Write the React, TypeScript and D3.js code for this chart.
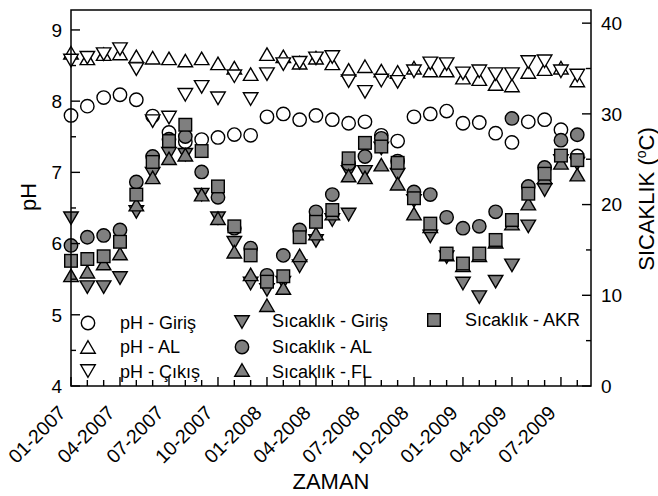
import React from "react";
import * as d3 from "d3";

// month index: 0 = 01-2007 ... 31 = 08-2009
const months = [0,1,2,3,4,5,6,7,8,9,10,11,12,13,14,15,16,17,18,19,20,21,22,23,24,25,26,27,28,29,30,31];
const xTickMonths = [0,3,6,9,12,15,18,21,24,27,30];
const xTickLabels = ["01-2007","04-2007","07-2007","10-2007","01-2008","04-2008","07-2008","10-2008","01-2009","04-2009","07-2009"];
const phTicks = [4,5,6,7,8,9];
const phMinor = [4.5,5.5,6.5,7.5,8.5];
const tTicks = [0,10,20,30,40];
const tMinor = [5,15,25,35];

const phGiris = [7.80,7.93,8.05,8.09,8.02,7.79,7.56,7.43,7.46,7.49,7.53,7.52,7.78,7.82,7.74,7.80,7.74,7.69,7.71,7.52,7.44,7.78,7.82,7.86,7.69,7.70,7.55,7.42,7.71,7.74,7.60,7.23];
const phAL = [8.68,8.60,8.66,8.67,8.63,8.61,8.60,8.57,8.60,8.53,8.47,8.38,8.66,8.63,8.54,8.61,8.53,8.44,8.49,8.43,8.41,8.47,8.43,8.43,8.33,8.31,8.24,8.22,8.41,8.45,8.47,8.29];
const phCikis = [8.57,8.61,8.66,8.73,8.45,7.72,7.77,8.09,8.20,8.04,8.35,8.03,8.38,8.52,8.54,8.60,8.62,8.28,8.13,8.29,8.27,8.42,8.53,8.52,8.39,8.42,8.38,8.38,8.55,8.56,8.42,8.36];

const tGiris = [18.5,10.9,10.9,11.9,19.2,23.4,25.6,25.5,21.1,18.5,15.8,11.3,10.6,11.4,13.2,16.0,18.3,23.6,23.6,26.2,23.3,20.4,16.5,14.2,11.3,9.8,11.5,13.3,17.6,21.6,24.8,24.5];
const tGirisExtraMonths = [17];
const tGirisExtra = [18.9];
const tAL = [15.5,16.4,16.6,17.2,22.5,25.3,27.2,27.5,23.6,20.8,17.4,15.2,12.2,14.4,17.2,19.2,21.1,24.5,25.3,27.3,24.8,21.4,21.1,18.6,17.4,17.6,19.2,29.5,22.0,24.1,27.1,27.7];
const tFL = [12.2,12.6,13.5,14.6,20.0,23.0,25.1,25.5,21.1,18.5,14.8,12.3,8.9,10.8,14.4,16.8,19.0,23.2,23.0,24.4,22.3,19.0,17.6,14.5,13.3,14.4,15.9,17.9,20.1,23.0,24.6,23.3];
const tAKR = [13.8,14.0,14.3,15.9,21.1,24.7,27.0,28.8,25.9,22.0,17.6,14.4,11.5,12.1,16.4,18.1,19.4,25.1,26.8,26.4,24.6,20.7,17.9,14.6,13.5,14.6,16.1,18.3,21.2,23.4,25.4,24.9];

const FONT = "'Liberation Sans', Arial, Helvetica, sans-serif";
const GRAY = "#7f7f7f";
const L = 71, R = 591, T = 10, B = 386;

type Shape = "circle" | "up" | "down" | "square";

function Marker({ shape, cx, cy, fill }: { shape: Shape; cx: number; cy: number; fill: string }) {
  const sw = 1.4;
  if (shape === "circle") return <circle cx={cx} cy={cy} r={6.7} fill={fill} stroke="#000" strokeWidth={sw} />;
  if (shape === "square") return <rect x={cx - 6.3} y={cy - 6.3} width={12.6} height={12.6} fill={fill} stroke="#000" strokeWidth={sw} />;
  const w = 14.5, h = 12.5;
  const pts = shape === "up"
    ? [[cx, cy - h / 2], [cx + w / 2, cy + h / 2], [cx - w / 2, cy + h / 2]]
    : [[cx, cy + h / 2], [cx + w / 2, cy - h / 2], [cx - w / 2, cy - h / 2]];
  return <polygon points={pts.map(p => p.join(",")).join(" ")} fill={fill} stroke="#000" strokeWidth={sw} strokeLinejoin="miter" />;
}

export default function App() {
  const x = d3.scaleLinear().domain([0, 31.84]).range([L, R]);
  const yPh = d3.scaleLinear().domain([4, 9.28]).range([B, T]);
  const yT = d3.scaleLinear().domain([0, 41.45]).range([B, T]);

  const phSeries: { data: number[]; shape: Shape }[] = [
    { data: phGiris, shape: "circle" },
    { data: phAL, shape: "up" },
    { data: phCikis, shape: "down" },
  ];
  const tSeries: { data: number[]; shape: Shape; m?: number[] }[] = [
    { data: tGiris, shape: "down" },
    { data: tGirisExtra, shape: "down", m: tGirisExtraMonths },
    { data: tAL, shape: "circle" },
    { data: tFL, shape: "up" },
    { data: tAKR, shape: "square" },
  ];

  const allMonths = d3.range(0, 32);

  return (
    <svg width={658} height={496} style={{ position: "absolute", left: 0, top: 0, background: "#fff" }} fontFamily={FONT}>
      <rect x={0} y={0} width={658} height={496} fill="#fff" />
      {phSeries.map((s, si) => (
        <g key={"ph" + si}>
          {s.data.map((v, i) => (
            <Marker key={i} shape={s.shape} cx={x(months[i])} cy={yPh(v)} fill="#fff" />
          ))}
        </g>
      ))}
      {tSeries.map((s, si) => (
        <g key={"t" + si}>
          {s.data.map((v, i) => (
            <Marker key={i} shape={s.shape} cx={x((s.m || months)[i])} cy={yT(v)} fill={GRAY} />
          ))}
        </g>
      ))}

      <rect x={L} y={T} width={R - L} height={B - T} fill="none" stroke="#000" strokeWidth={1.5} />

      {phTicks.map(t => (
        <g key={"pt" + t}>
          <line x1={L} x2={L + 9} y1={yPh(t)} y2={yPh(t)} stroke="#000" strokeWidth={1.4} />
          <text x={L - 9} y={yPh(t)} dy="0.36em" textAnchor="end" fontSize={19}>{t}</text>
        </g>
      ))}
      {phMinor.map(t => (
        <line key={"pm" + t} x1={L} x2={L + 5} y1={yPh(t)} y2={yPh(t)} stroke="#000" strokeWidth={1.4} />
      ))}
      {tTicks.map(t => (
        <g key={"tt" + t}>
          <line x1={R} x2={R - 9} y1={yT(t)} y2={yT(t)} stroke="#000" strokeWidth={1.4} />
          <text x={R + 10} y={yT(t)} dy="0.36em" textAnchor="start" fontSize={19}>{t}</text>
        </g>
      ))}
      {tMinor.map(t => (
        <line key={"tm" + t} x1={R} x2={R - 5} y1={yT(t)} y2={yT(t)} stroke="#000" strokeWidth={1.4} />
      ))}
      {allMonths.map(m => (
        <line key={"xm" + m} x1={x(m)} x2={x(m)} y1={B} y2={B - (m % 3 === 0 ? 9 : 6)} stroke="#000" strokeWidth={1.4} />
      ))}
      {xTickMonths.map((m, i) => (
        <text key={"xl" + m} transform={`translate(${x(m) - 4},${B + 28}) rotate(-45)`} textAnchor="end" fontSize={19.5}>{xTickLabels[i]}</text>
      ))}

      <text x={331} y={489} textAnchor="middle" fontSize={22}>ZAMAN</text>
      <text transform={`translate(36,197) rotate(-90)`} textAnchor="middle" fontSize={22}>pH</text>
      <text transform={`translate(654,199) rotate(-90)`} textAnchor="middle" fontSize={22}>
        SICAKLIK (<tspan fontSize={14} dy={-8}>o</tspan><tspan dy={8}>C)</tspan>
      </text>

      <Marker shape="circle" cx={88} cy={323} fill="#fff" />
      <text x={120} y={329} fontSize={18}>pH - Giriş</text>
      <Marker shape="up" cx={88} cy={347} fill="#fff" />
      <text x={120} y={353} fontSize={18}>pH - AL</text>
      <Marker shape="down" cx={88} cy={371} fill="#fff" />
      <text x={120} y={378} fontSize={18}>pH - Çıkış</text>

      <Marker shape="down" cx={242} cy={322} fill={GRAY} />
      <text x={272} y={327} fontSize={18}>Sıcaklık - Giriş</text>
      <Marker shape="circle" cx={242} cy={347} fill={GRAY} />
      <text x={272} y={353} fontSize={18}>Sıcaklık - AL</text>
      <Marker shape="up" cx={242} cy={370} fill={GRAY} />
      <text x={272} y={378} fontSize={18}>Sıcaklık - FL</text>

      <Marker shape="square" cx={434} cy={320} fill={GRAY} />
      <text x={465} y={326} fontSize={18}>Sıcaklık - AKR</text>
    </svg>
  );
}
